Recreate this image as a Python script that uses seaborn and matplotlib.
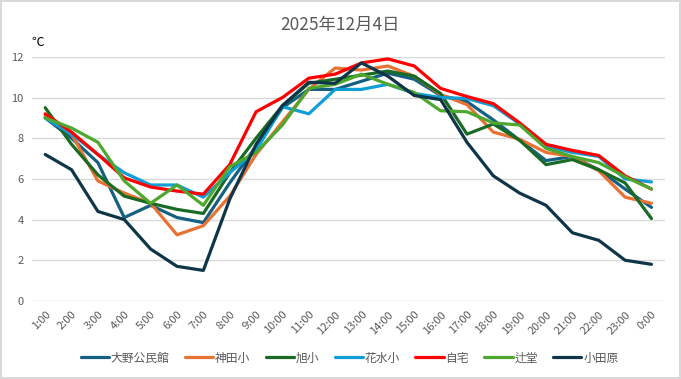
import pandas as pd
import seaborn as sns
import numpy as np
import matplotlib.pyplot as plt

# hours on the x axis
hours = ["1:00", "2:00", "3:00", "4:00", "5:00", "6:00", "7:00", "8:00", "9:00", "10:00",
         "11:00", "12:00", "13:00", "14:00", "15:00", "16:00", "17:00", "18:00", "19:00",
         "20:00", "21:00", "22:00", "23:00", "0:00"]

# temperatures per station
oono = [9.0, 8.0, 6.8, 4.1, 4.7, 4.1, 3.85, 5.8, 7.6, 9.5, 10.4, 10.4, 10.8, 11.2, 10.9, 10.1,
        9.8, 8.9, 7.9, 6.9, 7.1, 6.45, 5.5, 4.6]
kanda = [9.1, 8.2, 5.9, 5.3, 4.8, 3.25, 3.7, 5.15, 7.2, 8.8, 10.4, 11.45, 11.35, 11.55, 11.05, 10.15,
         9.65, 8.3, 7.95, 7.3, 7.1, 6.4, 5.1, 4.8]
asahi = [9.5, 7.7, 6.2, 5.15, 4.8, 4.5, 4.3, 6.3, 8.0, 9.6, 10.7, 10.9, 11.1, 11.3, 11.05, 10.2,
         8.2, 8.7, 7.9, 6.7, 6.95, 6.45, 5.8, 4.05]
hanamizu = [9.0, 8.2, 7.2, 6.3, 5.7, 5.7, 5.1, 6.3, 7.4, 9.55, 9.2, 10.4, 10.4, 10.65, 10.2, 10.0,
            9.95, 9.6, 8.7, 7.6, 7.3, 7.1, 6.0, 5.85]
jitaku = [9.2, 8.3, 7.2, 6.05, 5.6, 5.4, 5.25, 6.7, 9.3, 10.0, 10.95, 11.15, 11.7, 11.9, 11.55, 10.45,
          10.05, 9.7, 8.75, 7.7, 7.4, 7.15, 6.15, 5.5]
tsujido = [9.0, 8.5, 7.8, 5.9, 4.8, 5.7, 4.7, 6.6, 7.3, 8.65, 10.45, 10.65, 11.15, 10.65, 10.25, 9.35,
           9.3, 8.75, 8.65, 7.5, 7.1, 6.8, 6.1, 5.5]
odawara = [7.2, 6.45, 4.4, 4.0, 2.55, 1.7, 1.5, 5.0, 7.7, 9.6, 10.75, 10.7, 11.7, 11.05, 10.1, 9.9,
           7.8, 6.15, 5.3, 4.7, 3.35, 2.98, 2.0, 1.8]

stations = ["大野公民館", "神田小", "旭小", "花水小", "自宅", "辻堂", "小田原"]
colors = ["#156082", "#E97132", "#196B24", "#0F9ED5", "#FF0000", "#4EA72E", "#0E3548"]
series = [oono, kanda, asahi, hanamizu, jitaku, tsujido, odawara]

# long form table for seaborn
rows = []
for name, vals in zip(stations, series):
    for i, v in enumerate(vals):
        rows.append({"idx": i, "hour": hours[i], "station": name, "temp": v})
df = pd.DataFrame(rows)

sns.set_theme(style="white")
plt.rcParams['font.family'] = ['Noto Sans CJK JP', 'DejaVu Sans']

fig = plt.figure(figsize=(6.81, 3.79), dpi=100)
fig.patch.set_edgecolor("#D9D9D9")
fig.patch.set_linewidth(1.5)
ax = fig.add_axes([0.047, 0.206, 0.929, 0.644])

sns.lineplot(data=df, x="idx", y="temp", hue="station", hue_order=stations,
             palette=dict(zip(stations, colors)), linewidth=2.3, sort=False, ax=ax)

# axes look
ax.set_xlim(-0.5, 23.5)
ax.set_ylim(0, 12)
ax.set_yticks(np.arange(0, 13, 2))
ax.set_xticks(range(len(hours)))
ax.set_xticklabels(hours, rotation=45, ha="right", rotation_mode="anchor")
ax.tick_params(axis="both", colors="#595959", labelsize=8, length=0, pad=6)
ax.yaxis.grid(True, color="#D9D9D9", linewidth=1)
ax.set_axisbelow(True)
for s in ax.spines.values():
    s.set_visible(False)
ax.set_xlabel("")
ax.set_ylabel("")

fig.text(0.5, 0.935, "2025年12月4日", ha="center", va="center", fontsize=12.5, color="#595959")
fig.text(0.046, 0.888, "℃", ha="left", va="center", fontsize=9, color="black")

handles, labels = ax.get_legend_handles_labels()
ax.legend(handles, labels, loc="center", bbox_to_anchor=(0.502, -0.234), ncol=7, frameon=False,
          fontsize=8.5, labelcolor="#595959", handlelength=2.4, handletextpad=0.15,
          columnspacing=1.3)

plt.savefig("out.png", dpi=100, edgecolor=fig.get_edgecolor())
